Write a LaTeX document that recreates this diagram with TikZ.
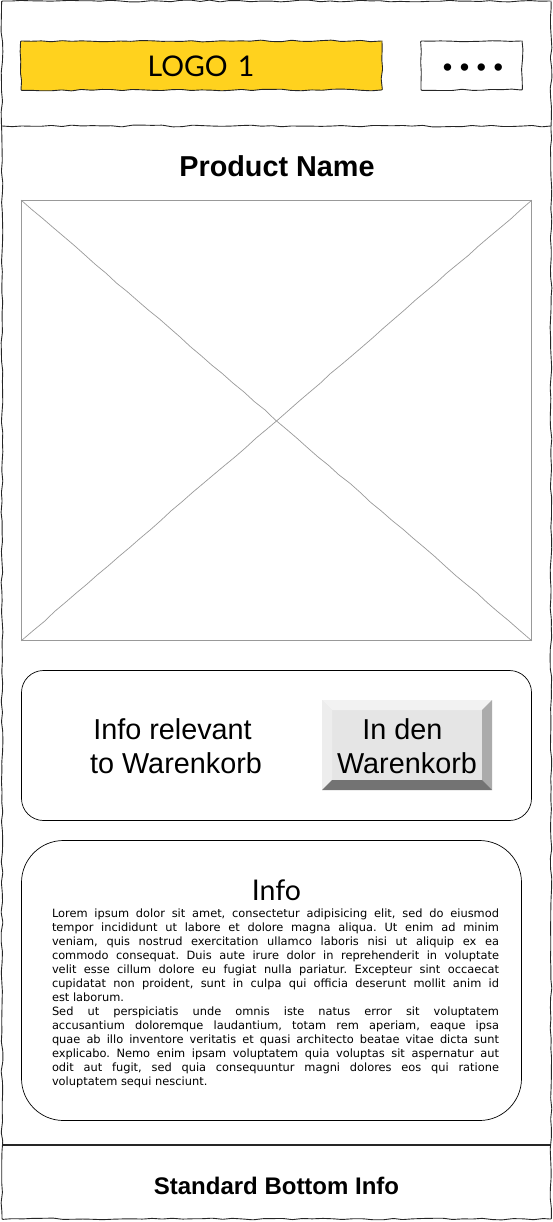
\documentclass[tikz,border=0pt]{standalone}
\usepackage{fontspec}
\setmainfont{Liberation Sans}
\newfontfamily\logofont[WordSpace=1.4]{Lato}
\newfontfamily\bodyfont{DejaVu Sans}
\usetikzlibrary{calc,decorations.pathmorphing}
\definecolor{logoyellow}{HTML}{FFD21E}
\tikzset{
  wobbly/.style={draw=black!85,line width=0.9pt,rounded corners=0.8pt,decorate,decoration={random steps,segment length=10pt,amplitude=0.9pt}},
  plainbox/.style={draw=black,line width=0.7pt,inner sep=0pt,outer sep=0pt},
  label/.style={inner sep=0pt,outer sep=0pt,align=center},
}
\begin{document}
\begin{tikzpicture}[x=1pt,y=-1pt]
			\pgfmathsetseed{7}
			\useasboundingbox (0,0) rectangle (552,1222);
			
			% Frames
			\node[wobbly,inner sep=0pt,minimum width=549pt,minimum height=1218pt] (page) at (276.5,610) {};
			\coordinate (headL) at (2,126);
			\coordinate (headR) at (551,126);
			\coordinate (footL) at (2,1145);
			\coordinate (footR) at (551,1145);
			\draw[wobbly] (headL) -- (headR);
			\draw[line width=1.3pt,black!85] (footL) -- (footR);
			
			% Header
			\node[wobbly,fill=logoyellow,minimum width=361pt,minimum height=49pt,inner sep=0pt] (logo) at (201.5,65.5) {};
			\node[label,font=\logofont\fontsize{28.5}{34}\selectfont] (logotext) at (201,66) {LOGO 1};
			\node[wobbly,minimum width=101pt,minimum height=49pt,inner sep=0pt] (menu) at (471.5,65.5) {};
			\node[label,font=\fontsize{27}{32}\selectfont] (dots) at (473,70) {• • • •};
			
			% Product
			\node[label,font=\bfseries\fontsize{28.8}{32}\selectfont] (title) at (277,166) {Product Name};
			\node[draw=black!40,line width=0.7pt,inner sep=0pt,minimum width=510pt,minimum height=440pt] (photo) at (276.5,420.5) {};
			\draw[black!40,line width=0.7pt,decorate,decoration={random steps,segment length=14pt,amplitude=0.5pt}] (photo.north west) -- (photo.south east);
			\draw[black!40,line width=0.7pt,decorate,decoration={random steps,segment length=14pt,amplitude=0.5pt}] (photo.north east) -- (photo.south west);
			
			% Warenkorb
			\node[plainbox,rounded corners=22pt,minimum width=510pt,minimum height=150pt] (cart) at (276.5,745.5) {};
			\node[label,font=\fontsize{28.8}{34}\selectfont] (carttext) at (176,746) {Info relevant\kern7pt\\to Warenkorb};
			\node[inner sep=0pt,outer sep=0pt,fill=black!10,minimum width=170pt,minimum height=90pt] (button) at (407,745) {};
			\coordinate (nw) at ($(button.north west)+(10,10)$);
			\coordinate (ne) at ($(button.north east)+(-10,10)$);
			\coordinate (se) at ($(button.south east)+(-10,-10)$);
			\coordinate (sw) at ($(button.south west)+(10,-10)$);
			\fill[black!5] (button.north west) -- (button.north east) -- (ne) -- (nw) -- cycle;
			\fill[black!7] (button.north west) -- (button.south west) -- (sw) -- (nw) -- cycle;
			\fill[black!33] (button.north east) -- (button.south east) -- (se) -- (ne) -- cycle;
			\fill[black!55] (button.south west) -- (button.south east) -- (se) -- (sw) -- cycle;
			\node[label,font=\fontsize{28.8}{34}\selectfont] (buttontext) at (407,746) {In den\kern9pt\\Warenkorb};
			
			% Info
			\node[plainbox,rounded corners=42pt,minimum width=500pt,minimum height=280pt] (info) at (271.5,980.5) {};
			\node[label,font=\logofont\fontsize{28.5}{34}\selectfont] (infotitle) at (276.5,890) {Info};
			\node[anchor=north west,inner sep=0pt,outer sep=0pt,text width=447pt,align=justify,font=\bodyfont\fontsize{11.4}{14}\selectfont\frenchspacing] (infotext) at (52,908.7) {Lorem ipsum dolor sit amet, consectetur adipisicing elit, sed do eiusmod\linebreak
				tempor incididunt ut labore et dolore magna aliqua. Ut enim ad minim\linebreak
				veniam, quis nostrud exercitation ullamco laboris nisi ut aliquip ex ea\linebreak
				commodo consequat. Duis aute irure dolor in reprehenderit in voluptate\linebreak
				velit esse cillum dolore eu fugiat nulla pariatur. Excepteur sint occaecat\linebreak
				cupidatat non proident, sunt in culpa qui officia deserunt mollit anim id\linebreak
				est laborum.\par
				Sed ut perspiciatis unde omnis iste natus error sit voluptatem\linebreak
				accusantium doloremque laudantium, totam rem aperiam, eaque ipsa\linebreak
				quae ab illo inventore veritatis et quasi architecto beatae vitae dicta sunt\linebreak
				explicabo. Nemo enim ipsam voluptatem quia voluptas sit aspernatur aut\linebreak
				odit aut fugit, sed quia consequuntur magni dolores eos qui ratione\linebreak
				voluptatem sequi nesciunt.};
			
			% Bottom
			\node[label,font=\bfseries\fontsize{24}{28}\selectfont] (bottom) at (276.5,1186) {Standard Bottom Info};
			
		\end{tikzpicture}
\end{document}
